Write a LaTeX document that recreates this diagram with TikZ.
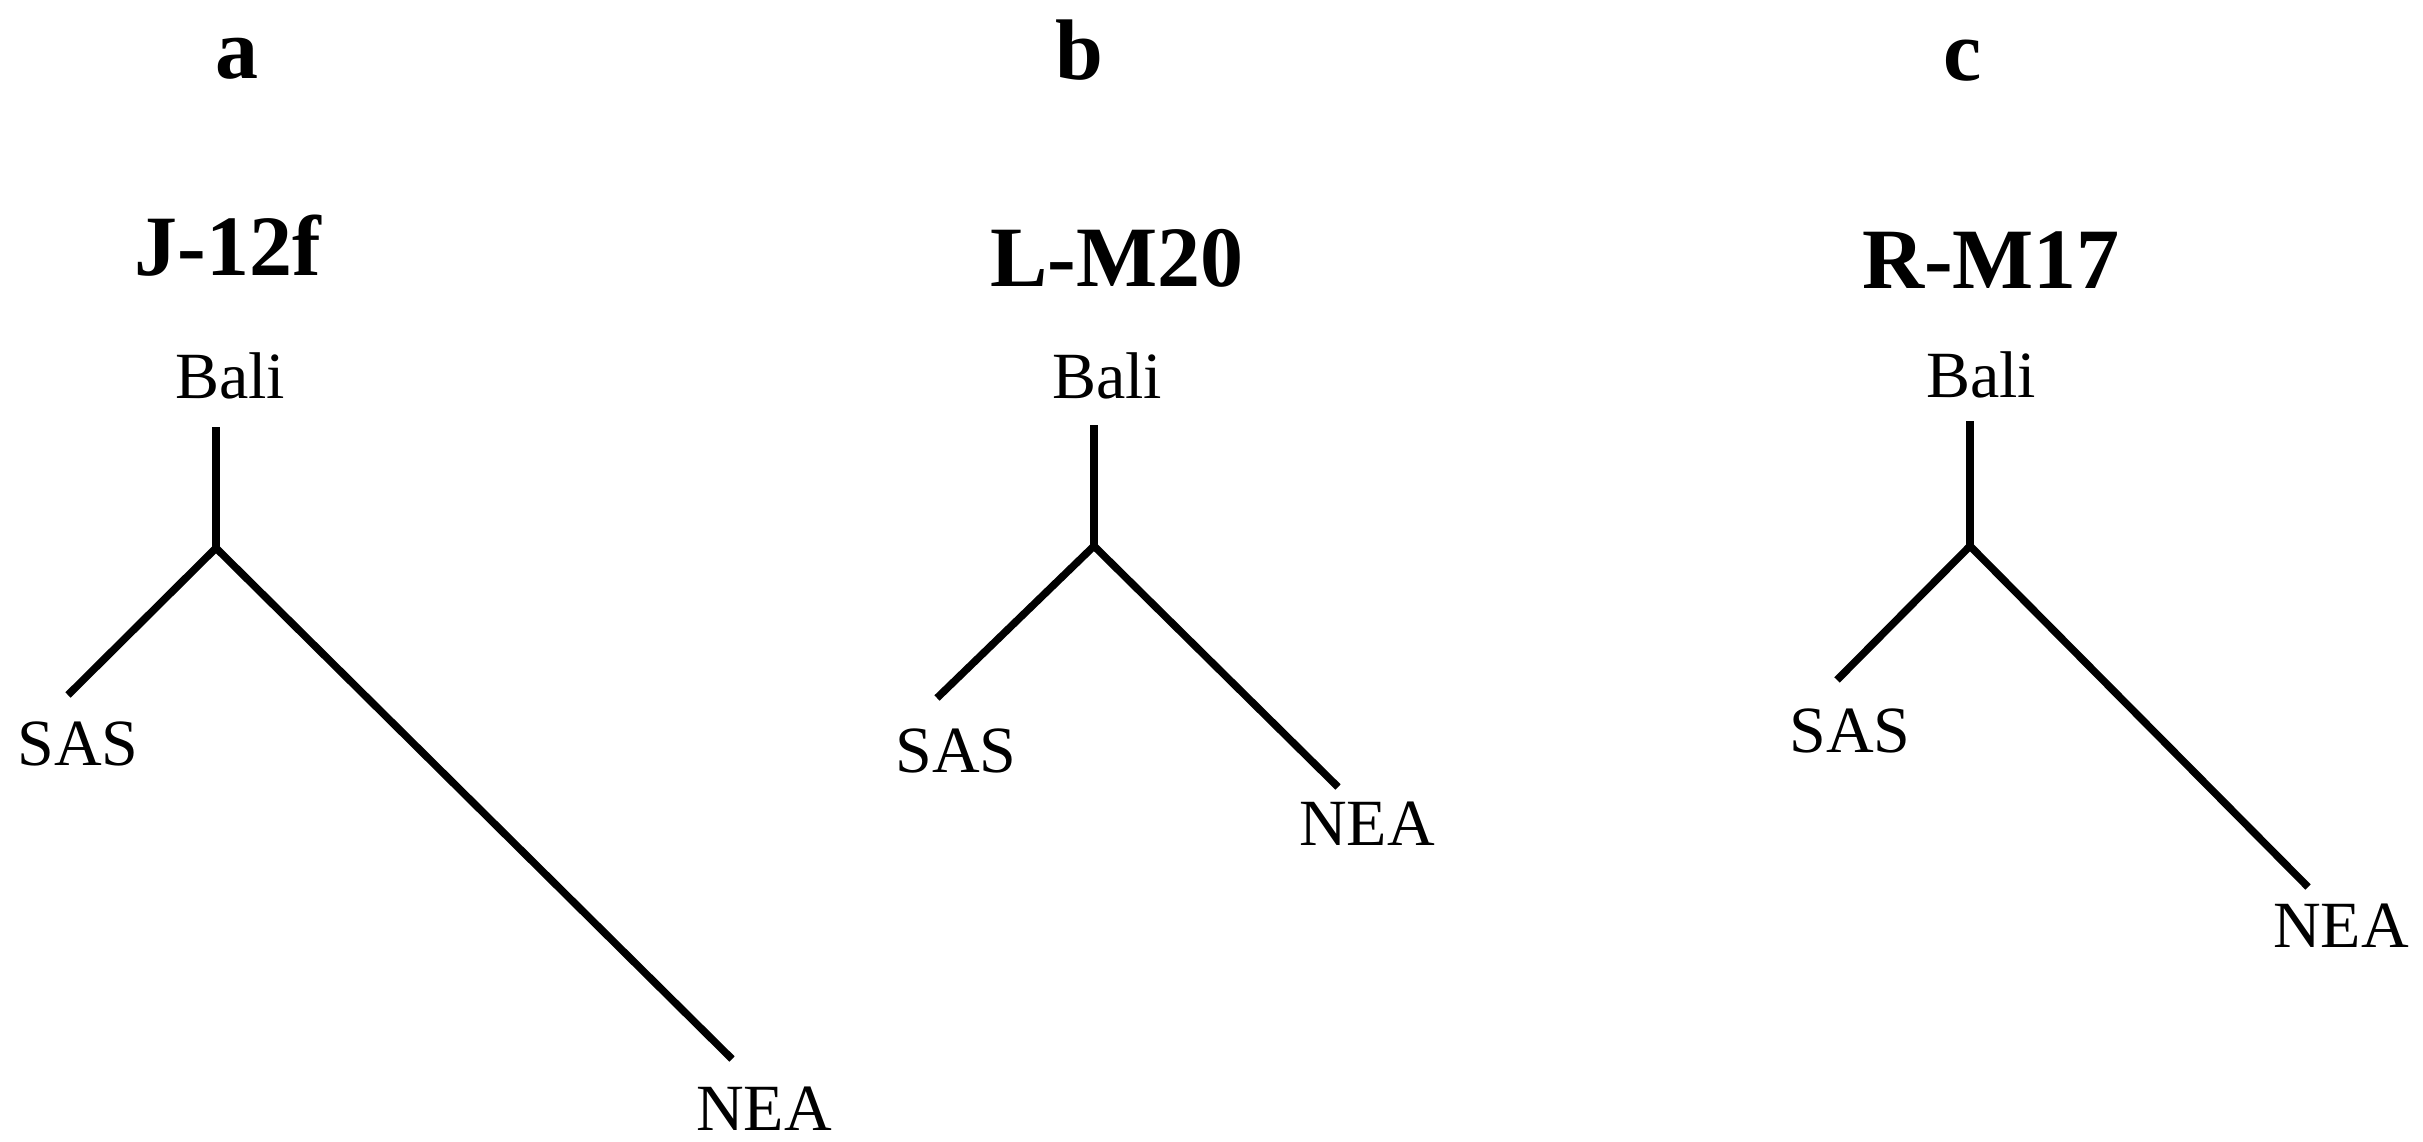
\documentclass[tikz,border=0pt]{standalone}
\usepackage{fontspec}
\setmainfont{Liberation Serif}
\begin{document}
\begin{tikzpicture}[x=1pt,y=-1pt,
  panel/.style={anchor=base,inner sep=0pt,font=\fontsize{86}{90}\selectfont\bfseries},
  hap/.style={anchor=base,inner sep=0pt,font=\fontsize{86}{90}\selectfont\bfseries},
  pop/.style={anchor=base,inner sep=0pt,font=\fontsize{66}{70}\selectfont},
  branch/.style={line width=7.5pt,black}]
\useasboundingbox (0,0) rectangle (2423,1142);
\fill[white] (0,0) rectangle (2423,1142);
% ---- panel a
\node[panel] (la) at (237,79) {a};
\node[hap] (ha) at (228,276) {J-12f};
\node[pop] (bala) at (230,398) {Bali};
\node[pop] (sasa) at (78,765) {SAS};
\node[pop] (neaa) at (764,1130) {NEA};
\coordinate (ta) at (216,427);
\coordinate (ja) at (216,548);
\coordinate (sa) at (68,695);
\coordinate (na) at (732,1059);
\draw[branch] (ta) -- (ja);
\draw[branch] (sa) -- (ja) -- (na);
% ---- panel b
\node[panel] (lb) at (1079,80) {b};
\node[hap] (hb) at (1117,287) {L-M20};
\node[pop] (balb) at (1107,398) {Bali};
\node[pop] (sasb) at (956,772) {SAS};
\node[pop] (neab) at (1367,845) {NEA};
\coordinate (tb) at (1094,425);
\coordinate (jb) at (1094,546);
\coordinate (sb) at (937,698);
\coordinate (nb) at (1338,787);
\draw[branch] (tb) -- (jb);
\draw[branch] (sb) -- (jb) -- (nb);
% ---- panel c
\node[panel] (lc) at (1963,81) {c};
\node[hap] (hc) at (1991,288) {R-M17};
\node[pop] (balc) at (1981,397) {Bali};
\node[pop] (sasc) at (1850,752) {SAS};
\node[pop] (neac) at (2341,947) {NEA};
\coordinate (tc) at (1970,421);
\coordinate (jc) at (1970,546);
\coordinate (sc) at (1837,680);
\coordinate (nc) at (2308,887);
\draw[branch] (tc) -- (jc);
\draw[branch] (sc) -- (jc) -- (nc);
\end{tikzpicture}
\end{document}
